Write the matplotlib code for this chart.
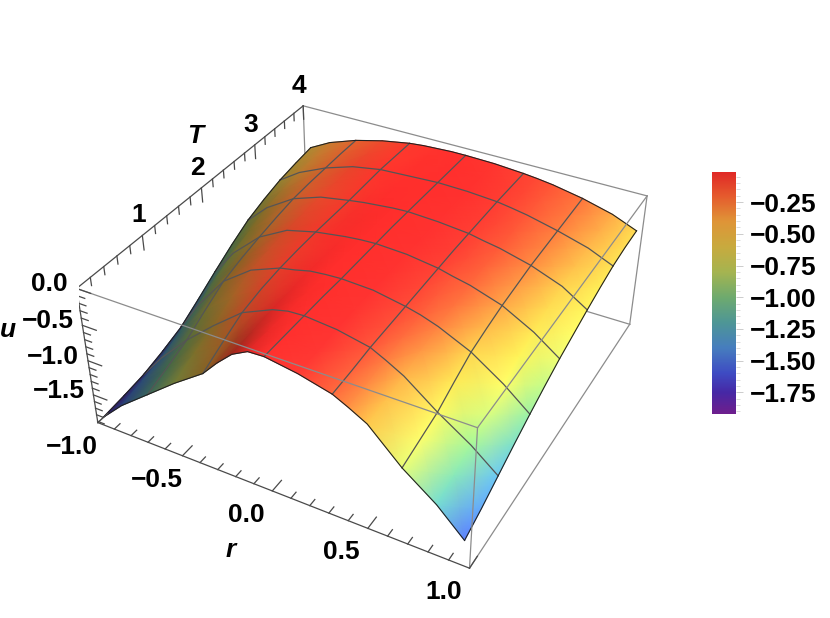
import numpy as np
import matplotlib
matplotlib.use("Agg")
import matplotlib.pyplot as plt
from matplotlib.colors import LinearSegmentedColormap, Normalize
from matplotlib.cm import ScalarMappable
from mpl_toolkits.mplot3d import proj3d

plt.rcParams['font.family'] = ['Liberation Sans', 'DejaVu Sans']
plt.rcParams['font.weight'] = 'bold'

# surface, rows are T, columns are r
r = np.array([-0.96, -5/6, -2/3, -1/2, -1/3, -1/4, -1/6, -1/12, 0, 1/6, 1/3, 0.41, 1/2, 2/3, 5/6, 0.97])
T = np.array([0, 1/3, 2/3, 1, 4/3, 5/3, 2, 7/3, 8/3, 3, 10/3, 11/3, 4])
u = np.array([
    [-1.80, -1.50, -1.18, -0.86, -0.57, -0.35, -0.16, -0.05, -0.04, -0.11, -0.22, -0.32, -0.45, -0.87, -1.20, -1.55],
    [-1.77, -1.43, -1.07, -0.72, -0.42, -0.27, -0.13, -0.05, -0.04, -0.10, -0.20, -0.30, -0.43, -0.80, -1.12, -1.44],
    [-1.73, -1.36, -0.95, -0.60, -0.28, -0.19, -0.10, -0.05, -0.04, -0.08, -0.17, -0.27, -0.40, -0.73, -1.02, -1.31],
    [-1.65, -1.24, -0.78, -0.45, -0.21, -0.15, -0.09, -0.05, -0.04, -0.07, -0.16, -0.23, -0.33, -0.60, -0.90, -1.18],
    [-1.55, -1.10, -0.62, -0.33, -0.17, -0.13, -0.08, -0.06, -0.05, -0.07, -0.15, -0.20, -0.28, -0.48, -0.77, -1.06],
    [-1.38, -0.95, -0.53, -0.28, -0.15, -0.12, -0.08, -0.06, -0.05, -0.07, -0.14, -0.19, -0.25, -0.42, -0.66, -0.95],
    [-1.20, -0.82, -0.46, -0.24, -0.14, -0.11, -0.08, -0.06, -0.05, -0.07, -0.13, -0.18, -0.23, -0.37, -0.60, -0.85],
    [-1.03, -0.70, -0.40, -0.22, -0.14, -0.11, -0.08, -0.06, -0.05, -0.07, -0.12, -0.16, -0.21, -0.34, -0.52, -0.77],
    [-0.88, -0.60, -0.35, -0.21, -0.14, -0.11, -0.09, -0.07, -0.06, -0.08, -0.12, -0.16, -0.20, -0.31, -0.47, -0.69],
    [-0.78, -0.54, -0.33, -0.20, -0.13, -0.11, -0.09, -0.08, -0.07, -0.08, -0.12, -0.15, -0.19, -0.30, -0.43, -0.62],
    [-0.70, -0.50, -0.32, -0.19, -0.12, -0.11, -0.10, -0.09, -0.08, -0.09, -0.12, -0.15, -0.19, -0.29, -0.41, -0.56],
    [-0.65, -0.47, -0.31, -0.20, -0.13, -0.12, -0.10, -0.10, -0.09, -0.10, -0.13, -0.15, -0.19, -0.28, -0.39, -0.53],
    [-0.61, -0.45, -0.31, -0.21, -0.14, -0.12, -0.11, -0.10, -0.10, -0.11, -0.14, -0.16, -0.19, -0.27, -0.38, -0.52],
])
u_min, u_max = -1.92, -0.013

# which columns and rows carry a mesh line
mesh_r = [2, 4, 8, 10, 13]
mesh_T = [2, 4, 6, 8, 10]

r_major = [-1.0, -0.5, 0.0, 0.5, 1.0]
T_major = [1, 2, 3, 4]
u_major = [0.0, -0.5, -1.0, -1.5]
bar_major = [-0.25, -0.5, -0.75, -1.0, -1.25, -1.5, -1.75]

bar_u = [-1.92, -1.75, -1.6, -1.4, -1.2, -1.0, -0.8, -0.6, -0.4, -0.2, -0.013]
bar_rgb = [(110, 30, 140), (70, 40, 165), (62, 75, 195), (70, 125, 190), (78, 150, 150), (110, 170, 110),
           (165, 180, 80), (200, 170, 62), (223, 148, 55), (229, 90, 45), (224, 40, 38)]

W, H = 830, 618
norm = Normalize(u_min, u_max)
cmap = LinearSegmentedColormap.from_list(
    'bar', [(norm(a), tuple(c / 255 for c in rgb)) for a, rgb in zip(bar_u, bar_rgb)], N=512)

fig = plt.figure(figsize=(W / 100, H / 100), dpi=100)
rect = [79.2 / W, (H - 604.5) / H, 577.7 / W, 577.7 / H]

ax = fig.add_axes(rect, projection='3d')
ax.set_xlim(-1, 1)
ax.set_ylim(0, 4)
ax.set_zlim(u_min, 0)
ax.view_init(elev=36.195, azim=-61.452, roll=0.05)
ax.set_proj_type('persp', focal_length=0.4402)
ax.set_box_aspect((1, 0.9958, 0.4005))
ax.set_axis_off()
ax.autoscale(False)
M = ax.get_proj()

# box edges that sit behind the surface
GRAY = '#8c8c8c'
DARK = '#4a4a4a'
for a, b in [((-1, 4, 0), (1, 4, 0)), ((-1, 4, 0), (-1, 4, u_min)), ((1, 4, 0), (1, 4, u_min)),
             ((-1, 4, u_min), (1, 4, u_min)), ((-1, 0, u_min), (-1, 4, u_min)), ((1, 0, u_min), (1, 4, u_min))]:
    ax.plot(*zip(a, b), color=GRAY, lw=0.9)

# 2D layer on top, same limits, takes the projected coordinates
top = fig.add_axes(rect, frameon=False)
top.set_axis_off()


def project(x, y, z):
    x = np.asarray(x, float)
    px, py, _ = proj3d.proj_transform(x.ravel(), np.asarray(y, float).ravel(), np.asarray(z, float).ravel(), M)
    return np.reshape(px, x.shape), np.reshape(py, x.shape)


R, TT = np.meshgrid(r, T)
X, Y = project(R, TT, u)
# lighting: slopes facing left go dark, slopes facing right go bright
slope = np.gradient(u, r, axis=1)
light = np.clip(1.2 - 0.28 * slope, 0.62, 1.45)
rgba = cmap(norm(u + 0.08 * np.clip(1.5 + u, 0, 1)))
rgba[..., :3] = np.clip(rgba[..., :3] * light[..., None], 0, 1)
top.pcolormesh(X, Y, rgba, shading='gouraud', zorder=2)
top.set_xlim(ax.viewLim.intervalx)
top.set_ylim(ax.viewLim.intervaly)

for i in mesh_T:
    top.plot(X[i], Y[i], color='#555555', lw=0.9, zorder=3)
for j in mesh_r:
    top.plot(X[:, j], Y[:, j], color='#555555', lw=0.9, zorder=3)
for xs, ys in [(X[0], Y[0]), (X[-1], Y[-1]), (X[:, 0], Y[:, 0]), (X[:, -1], Y[:, -1])]:
    top.plot(xs, ys, color='#222222', lw=0.8, zorder=3)


def edge(a, b, color, z=4):
    px, py = project(*zip(a, b))
    top.plot(px, py, color=color, lw=0.9, zorder=z)


edge((-1, 0, 0), (1, 0, 0), GRAY)
edge((1, 0, 0), (1, 4, 0), GRAY)
edge((1, 0, 0), (1, 0, u_min), GRAY)
edge((-1, 0, 0), (-1, 0, u_min), DARK)
edge((-1, 0, u_min), (1, 0, u_min), DARK)
edge((-1, 0, 0), (-1, 4, 0), DARK)

# ticks along the three labelled edges
for v in np.arange(-1, 1.001, 0.1):
    big = any(abs(v - m) < 1e-6 for m in r_major)
    edge((v, 0, u_min), (v, 0.16 if big else 0.09, u_min), DARK)
for v in np.arange(0.2, 4.001, 0.2):
    big = any(abs(v - m) < 1e-6 for m in T_major)
    edge((-1, v, 0), (-1, v, -0.2 if big else -0.11), DARK)
for v in np.arange(-1.9, 0.001, 0.1):
    big = any(abs(v - m) < 1e-6 for m in u_major)
    edge((-0.92 if big else -0.96, 0, v), (-1, 0, v), DARK)


def label(x, y, z, text, dx, dy, ha='center', size=19, style='normal'):
    px, py = project(x, y, z)
    top.annotate(text, (float(px), float(py)), xytext=(dx, dy), textcoords='offset pixels', ha=ha, va='center',
                 fontsize=size, fontstyle=style, fontweight='bold', annotation_clip=False)


fmt = lambda v: f'{v:.1f}'.replace('-', '\u2212')
for v in r_major:
    label(v, 0, u_min, fmt(v), -26, -24)
for v in T_major:
    label(-1, v, 0, str(v), -4, 20)
for v in u_major:
    label(-1, 0, v, fmt(v), -9, 4, ha='right')
label(-1, 0, -0.5, 'u', -74, -5, style='italic')
label(0, 0, u_min, 'r', -42, -59, style='italic')
label(-1, 2, 0, 'T', -6, 52, style='italic')

# colour bar
cax = fig.add_axes([712 / W, (H - 414) / H, 24 / W, 242 / H])
cb = fig.colorbar(ScalarMappable(norm=norm, cmap=cmap), cax=cax)
cb.outline.set_visible(False)
cb.set_ticks(bar_major, labels=[f'{v:.2f}'.replace('-', '\u2212') for v in bar_major])
cb.ax.set_yticks(np.arange(-1.9, -0.01, 0.05), minor=True)
cb.ax.tick_params(which='major', length=5, width=0.7, color='#cccccc', labelsize=19, pad=5)
cb.ax.tick_params(which='minor', length=3, width=0.7, color='#dddddd')

fig.savefig('out.png', dpi=100)
